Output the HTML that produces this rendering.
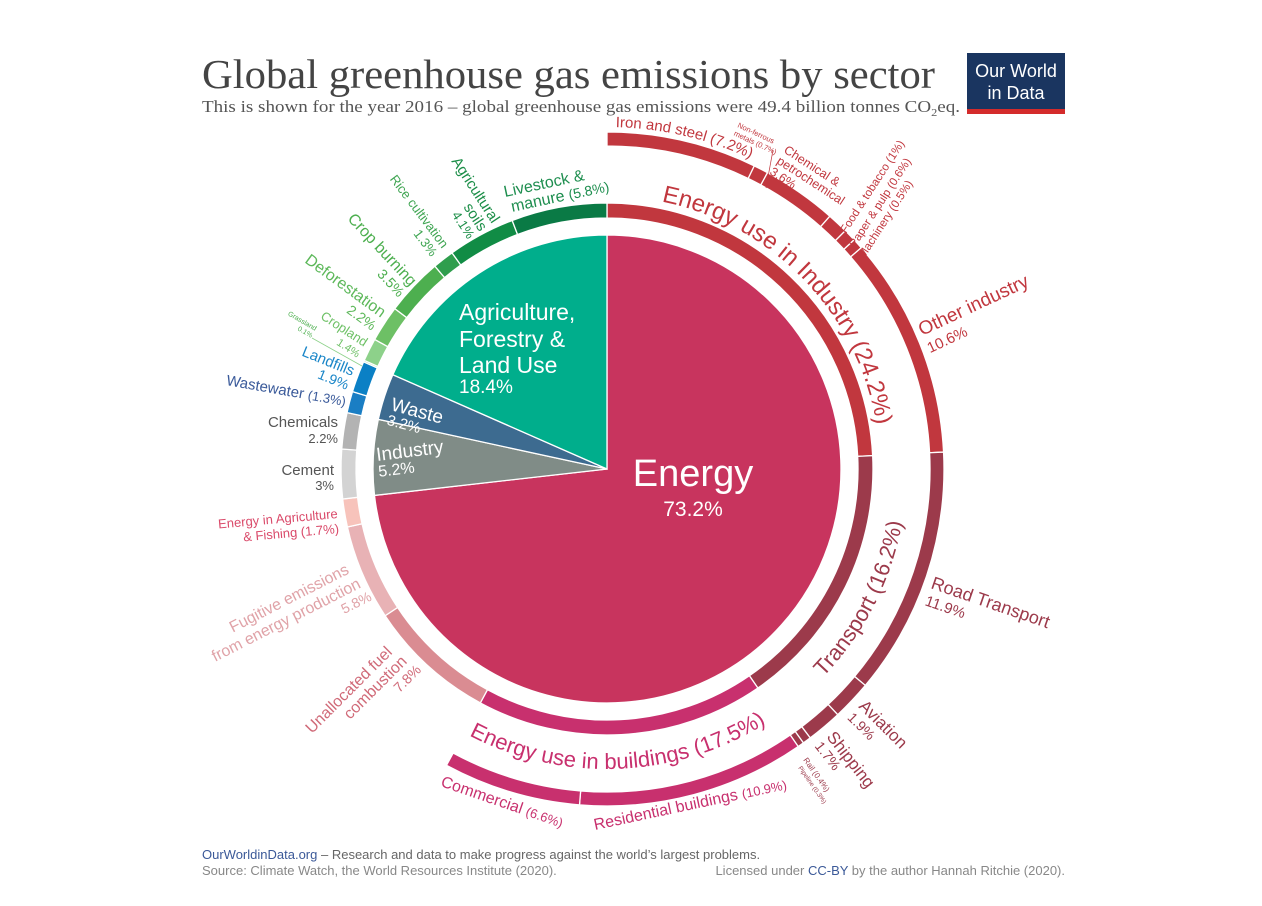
<!DOCTYPE html>
<html><head><meta charset="utf-8"><style>
html,body{margin:0;padding:0;background:#fff}
svg{display:block}
text{font-family:"Liberation Sans",sans-serif}
.serif{font-family:"Liberation Serif",serif}
</style></head><body>
<svg id="s" width="1262" height="906" viewBox="0 0 1262 906" xmlns="http://www.w3.org/2000/svg">
<defs>
<path id="pInd"/><path id="pTr"/><path id="pBld"/><path id="pIron"/>
</defs>
<g id="arcs"></g>

<text class="serif" x="202" y="88" font-size="41" fill="#444" textLength="733" lengthAdjust="spacingAndGlyphs">Global greenhouse gas emissions by sector</text>
<text class="serif" x="202" y="112" font-size="17" fill="#555" textLength="758" lengthAdjust="spacingAndGlyphs">This is shown for the year 2016 – global greenhouse gas emissions were 49.4 billion tonnes CO<tspan font-size="11" dy="4">2</tspan><tspan dy="-4">eq.</tspan></text>
<rect x="967" y="53" width="98" height="56" fill="#1A3560"/>
<rect x="967" y="109" width="98" height="5" fill="#D42B2B"/>
<text x="1016" y="77" font-size="18" fill="#fff" text-anchor="middle">Our World</text>
<text x="1016" y="99" font-size="18" fill="#fff" text-anchor="middle">in Data</text>

<!-- pie labels -->
<text x="693" y="486" font-size="38" fill="#fff" text-anchor="middle">Energy</text>
<text x="693" y="516" font-size="21" fill="#fff" text-anchor="middle">73.2%</text>
<g font-size="23" fill="#fff"><text x="459" y="320">Agriculture,</text><text x="459" y="347">Forestry &amp;</text><text x="459" y="373">Land Use</text></g>
<text x="459" y="393" font-size="19" fill="#fff">18.4%</text>
<g transform="translate(390,410) rotate(15)" fill="#fff"><text font-size="19">Waste</text><text y="15" font-size="15">3.2%</text></g>
<g transform="translate(377,461) rotate(-7)" fill="#fff"><text font-size="19">Industry</text><text y="16" font-size="16">5.2%</text></g>

<!-- curved -->
<text font-size="24" fill="#C1373E"><textPath href="#pInd">Energy use in Industry (24.2%)</textPath></text>
<text font-size="22" fill="#9C3A4B"><textPath href="#pTr">Transport (16.2%)</textPath></text>
<text font-size="22" fill="#C8306E"><textPath href="#pBld">Energy use in buildings (17.5%)</textPath></text>
<text font-size="15" fill="#C1373E"><textPath href="#pIron">Iron and steel (7.2%)</textPath></text>

<!-- industry subs -->
<g transform="translate(737,127) rotate(25)" font-size="7.5" fill="#C1373E"><text>Non-ferrous</text><text y="9">metals (0.7%)</text></g>
<line x1="773" y1="150" x2="766" y2="188" stroke="#C1373E" stroke-width="0.7"/>
<g transform="translate(783,152) rotate(33)" font-size="12.5" fill="#C1373E"><text>Chemical &amp;</text><text y="13">petrochemical</text><text y="26">3.6%</text></g>
<g font-size="11.5" fill="#C1373E">
<text transform="translate(846,234) rotate(-57)">Food &amp;  tobacco (1%)</text>
<text transform="translate(855,248) rotate(-57)">Paper &amp; pulp (0.6%)</text>
<text transform="translate(864,259) rotate(-57)">Machinery (0.5%)</text>
</g>
<g transform="translate(922,336) rotate(-25)" font-size="19" fill="#C1373E"><text>Other industry</text><text y="19" font-size="15">10.6%</text></g>

<g transform="translate(930,588) rotate(19)" font-size="18" fill="#9C3A4B"><text>Road Transport</text><text y="18" font-size="15">11.9%</text></g>
<g transform="translate(858,707) rotate(45)" font-size="17" fill="#9C3A4B"><text>Aviation</text><text y="16" font-size="14">1.9%</text></g>
<g transform="translate(826,737) rotate(52)" font-size="17" fill="#9C3A4B"><text>Shipping</text><text y="15" font-size="14">1.7%</text></g>
<text transform="translate(803,760) rotate(55)" font-size="8" fill="#9C3A4B">Rail (0.4%)</text>
<text transform="translate(798,768) rotate(55)" font-size="6.5" fill="#9C3A4B">Pipeline (0.3%)</text>

<text transform="translate(440,786) rotate(19)" font-size="16" fill="#C8306E">Commercial <tspan font-size="13">(6.6%)</tspan></text>
<text transform="translate(595,830) rotate(-12)" font-size="16" fill="#C8306E">Residential buildings <tspan font-size="13">(10.9%)</tspan></text>

<g transform="translate(393,653) rotate(-45)" font-size="16" fill="#D06A78" text-anchor="end"><text>Unallocated fuel</text><text x="4" y="17">combustion</text><text x="8" y="33" font-size="14">7.8%</text></g>
<g transform="translate(350,573) rotate(-27)" font-size="16" fill="#E0A3A8" text-anchor="end"><text>Fugitive emissions</text><text x="4" y="18">from energy production</text><text x="8" y="34" font-size="14">5.8%</text></g>
<g transform="translate(338,518) rotate(-5)" font-size="13" fill="#DA4A6A" text-anchor="end"><text>Energy in Agriculture</text><text y="15">&amp; Fishing (1.7%)</text></g>

<g font-size="15" fill="#555" text-anchor="end"><text x="334" y="475">Cement</text><text x="334" y="490" font-size="13">3%</text>
<text x="338" y="427">Chemicals</text><text x="338" y="443" font-size="13">2.2%</text></g>
<text transform="translate(345,406) rotate(10)" font-size="15" fill="#3A5A9A" text-anchor="end">Wastewater <tspan font-size="13">(1.3%)</tspan></text>
<g transform="translate(352,376) rotate(22)" font-size="15" fill="#1A86C8" text-anchor="end"><text>Landfills</text><text y="15" font-size="14">1.9%</text></g>
<g transform="translate(315,331) rotate(30)" font-size="7" fill="#4DAF4F" text-anchor="end"><text>Grassland</text><text y="8">0.1%</text></g>
<line x1="312" y1="338" x2="362" y2="366" stroke="#8DD18A" stroke-width="0.8"/>
<g transform="translate(364,347) rotate(33)" font-size="13" fill="#6DC065" text-anchor="end"><text>Cropland</text><text y="13" font-size="11">1.4%</text></g>
<g transform="translate(381,318) rotate(36)" font-size="16" fill="#5DB85A" text-anchor="end"><text>Deforestation</text><text y="16" font-size="14">2.2%</text></g>
<g transform="translate(410,287) rotate(47)" font-size="16" fill="#4DAF4F" text-anchor="end"><text>Crop burning</text><text y="16" font-size="14">3.5%</text></g>
<g transform="translate(442,249) rotate(53)" font-size="13" fill="#3FA552" text-anchor="end"><text>Rice cultivation</text><text y="14">1.3%</text></g>
<g transform="translate(492,224) rotate(57)" font-size="15" fill="#1C8E48" text-anchor="end"><text>Agricultural</text><text y="15">soils</text><text y="29" font-size="13">4.1%</text></g>
<g transform="translate(505,197) rotate(-12)" font-size="16" fill="#1E8E4F"><text>Livestock &amp;</text><text x="4" y="16">manure <tspan font-size="14">(5.8%)</tspan></text></g>

<!-- footer -->
<text x="202" y="859" font-size="13" fill="#666"><tspan fill="#3B5998">OurWorldinData.org</tspan> – Research and data to make progress against the world’s largest problems.</text>
<text x="202" y="875" font-size="13" fill="#888">Source: Climate Watch, the World Resources Institute (2020).</text>
<text x="1065" y="875" font-size="13" fill="#888" text-anchor="end">Licensed under <tspan fill="#3B5998">CC-BY</tspan> by the author Hannah Ritchie  (2020).</text>
</svg>
<script>
var cx=607,cy=469,NS="http://www.w3.org/2000/svg";
function pt(r,p){var a=p*3.6*Math.PI/180;return [cx+r*Math.sin(a),cy-r*Math.cos(a)];}
function seg(r0,r1,p0,p1,c){var a=pt(r1,p0),b=pt(r1,p1),d=pt(r0,p1),e=pt(r0,p0),L=(p1-p0)>50?1:0,s;
 if(r0>0) s="M"+a+"A"+r1+","+r1+" 0 "+L+" 1 "+b+"L"+d+"A"+r0+","+r0+" 0 "+L+" 0 "+e+"Z";
 else s="M"+cx+","+cy+"L"+a+"A"+r1+","+r1+" 0 "+L+" 1 "+b+"Z";
 var el=document.createElementNS(NS,"path");el.setAttribute("d",s);el.setAttribute("fill",c);el.setAttribute("stroke","#fff");el.setAttribute("stroke-width","1.3");document.getElementById("arcs").appendChild(el);}
function ring(r0,r1,start,list){var p=start;list.forEach(function(x){seg(r0,r1,p,p+x[0],x[1]);p+=x[0];});}
ring(0,234,0,[[73.2,"#C8345E"],[5.2,"#808C87"],[3.2,"#3D6B90"],[18.4,"#00AE8C"]]);
ring(251,266,0,[[24.2,"#C1373E"],[16.2,"#9C3A4B"],[17.5,"#C8306E"],[7.8,"#DA8C92"],[5.8,"#E8B2B5"],[1.7,"#F7C3BB"],[3,"#D3D3D3"],[2.2,"#B3B3B3"],[1.3,"#1A7EC4"],[1.9,"#0B80C5"],[0.1,"#A3DC9E"],[1.4,"#8DD18A"],[2.2,"#6DC065"],[3.5,"#4DAF4F"],[1.3,"#2F9E4D"],[4.1,"#118C45"],[5.8,"#0A7A45"]]);
var R="#C1373E",T="#9C3A4B",B="#C8306E";
ring(323,337,0,[[7.2,R],[0.7,R],[3.6,R],[1,R],[0.6,R],[0.5,R],[10.6,R],[11.9,T],[1.9,T],[1.7,T],[0.4,T],[0.3,T],[10.9,B],[6.6,B]]);
function arcPath(id,r,p0,p1,sw){var a=pt(r,p0),b=pt(r,p1);document.getElementById(id).setAttribute("d","M"+a+"A"+r+","+r+" 0 0 "+sw+" "+b);}
arcPath("pInd",273,3.2,25,1);
arcPath("pTr",300,37.2,26.5,0);
arcPath("pBld",300,57.6,40.5,0);
arcPath("pIron",342,0.4,12,1);
</script>
</body></html>
